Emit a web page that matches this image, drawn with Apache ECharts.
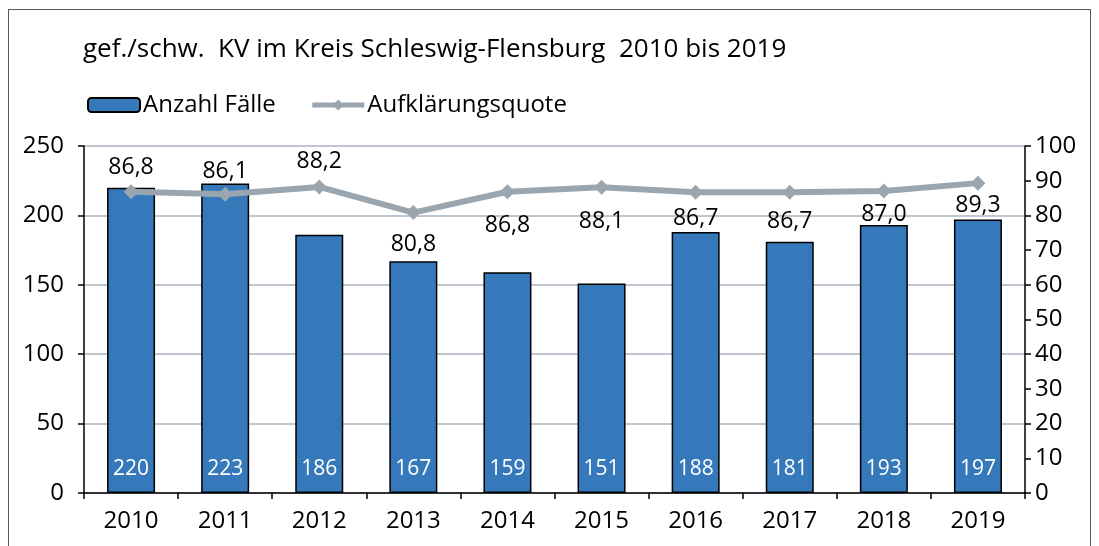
<!DOCTYPE html>
<html>
<head>
<meta charset="utf-8">
<script src="https://cdn.jsdelivr.net/npm/echarts@6/dist/echarts.min.js"></script>
<style>
  html, body { margin: 0; padding: 0; background: #fff; }
  #frame { position: absolute; left: 8px; top: 9px; width: 1081px; height: 600px; border: 1.5px solid #595959; }
  #chart { position: absolute; left: 0; top: 0; width: 1099px; height: 546px; }
</style>
</head>
<body>
<div id="frame"></div>
<div id="chart"></div>
<script>
  // Daten
  var years = ['2010', '2011', '2012', '2013', '2014', '2015', '2016', '2017', '2018', '2019'];
  var faelle = [220, 223, 186, 167, 159, 151, 188, 181, 193, 197];
  var quote = [86.8, 86.1, 88.2, 80.8, 86.8, 88.1, 86.7, 86.7, 87.0, 89.3];

  // vertikaler Versatz der Quoten-Beschriftungen (wie im Original von Hand gesetzt)
  var quoteLabelDy = [-24, -23, -25, 32, 34, 34, 26, 29, 23, 22];

  var fontFam = '"Open Sans", "Noto Sans", sans-serif';

  var chart = echarts.init(document.getElementById('chart'));

  var quoteData = quote.map(function (v, i) {
    return { value: v, label: { offset: [0, quoteLabelDy[i]] } };
  });

  var option = {
    animation: false,
    textStyle: { fontFamily: fontFam },
    title: {
      text: 'gef./schw.  KV im Kreis Schleswig-Flensburg  2010 bis 2019',
      left: 78,
      top: 32,
      textStyle: { fontSize: 26, fontWeight: 'normal', color: '#000', fontFamily: fontFam }
    },
    legend: {
      left: 82,
      top: 88,
      itemGap: 34,
      itemWidth: 52,
      itemHeight: 14,
      lineStyle: { width: 5 },
      textStyle: { fontSize: 24, color: '#000', fontFamily: fontFam, padding: [0, 0, 0, -2] },
      data: ['Anzahl Fälle', 'Aufklärungsquote']
    },
    grid: { left: 84, right: 74, top: 146, bottom: 53 },
    xAxis: {
      type: 'category',
      data: years,
      axisLine: { lineStyle: { color: '#000', width: 1.5 } },
      axisTick: { show: true, length: 6, lineStyle: { color: '#000', width: 1.5 } },
      axisLabel: { fontSize: 24, color: '#000', margin: 16 }
    },
    yAxis: [
      {
        type: 'value',
        min: 0, max: 250, interval: 50,
        axisLine: { show: true, lineStyle: { color: '#000', width: 1.5 } },
        axisTick: { show: true, length: 6, lineStyle: { color: '#000', width: 1.5 } },
        axisLabel: { fontSize: 24, color: '#000', margin: 20 },
        splitLine: { lineStyle: { color: '#A9B5C0', width: 1.5 } }
      },
      {
        type: 'value',
        min: 0, max: 100, interval: 10,
        position: 'right',
        axisLine: { show: true, lineStyle: { color: '#000', width: 1.5 } },
        axisTick: { show: true, length: 6, lineStyle: { color: '#000', width: 1.5 } },
        axisLabel: { fontSize: 24, color: '#000', margin: 10 },
        splitLine: { show: false }
      }
    ],
    series: [
      {
        name: 'Anzahl Fälle',
        type: 'bar',
        data: faelle,
        barWidth: 48,
        itemStyle: { color: '#3579BA', borderColor: '#000', borderWidth: 1.5 },
        label: {
          show: true,
          position: 'insideBottom',
          distance: 13,
          color: '#fff',
          fontSize: 21,
          fontFamily: fontFam
        }
      },
      {
        name: 'Aufklärungsquote',
        type: 'line',
        yAxisIndex: 1,
        data: quoteData,
        symbol: 'diamond',
        symbolSize: 15,
        lineStyle: { color: '#9AA6AF', width: 6 },
        itemStyle: { color: '#9AA6AF' },
        label: {
          show: true,
          position: 'inside',
          color: '#000',
          fontSize: 23,
          fontFamily: fontFam,
          formatter: function (p) { return p.value.toFixed(1).replace('.', ','); }
        },
        z: 5
      }
    ]
  };

  chart.setOption(option);
</script>
</body>
</html>
